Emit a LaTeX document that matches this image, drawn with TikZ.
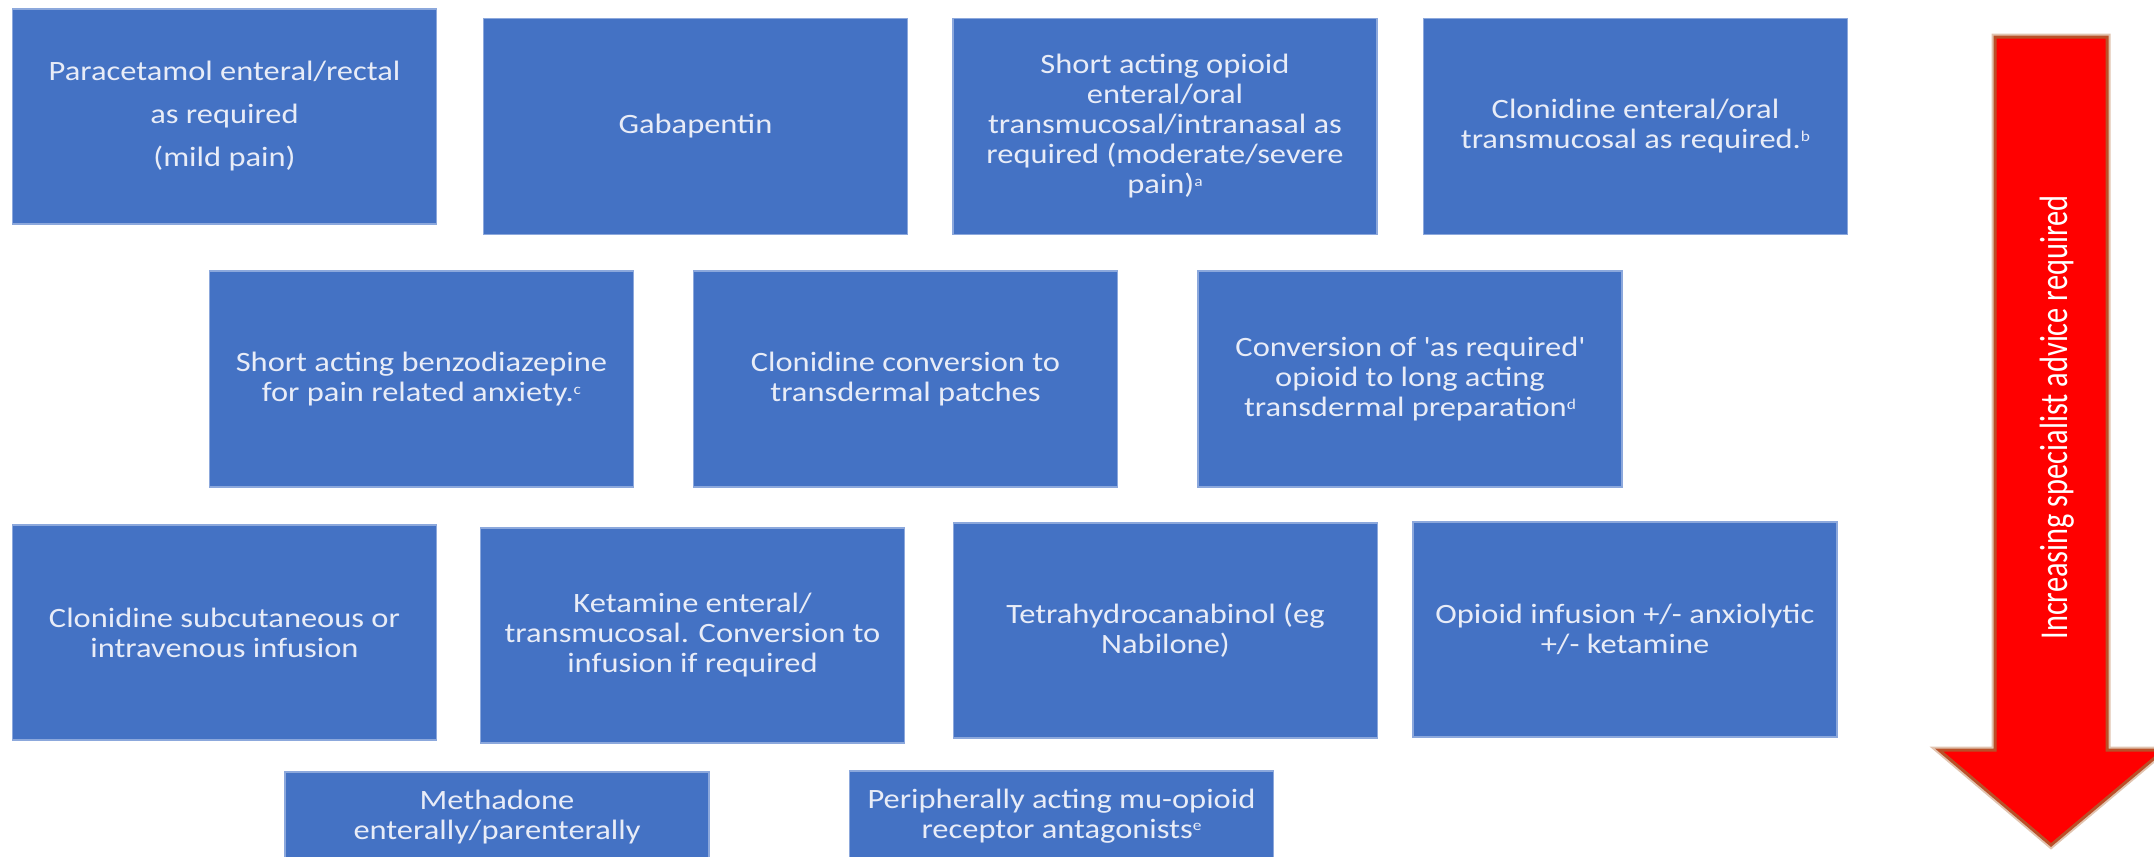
\documentclass[tikz,border=0pt]{standalone}
\usepackage{fontspec}
\setmainfont{Carlito}[FakeStretch=1.16]
\newfontfamily\arrowfont{Carlito}
\newcommand\fnmark[1]{\raisebox{0.55ex}{\fontsize{7.5}{7.5}\selectfont #1}}
\definecolor{boxblue}{RGB}{68,114,196}
\definecolor{boxedge}{RGB}{140,168,220}
\definecolor{boxtext}{RGB}{232,236,247}
\definecolor{arrowred}{RGB}{255,0,0}
\definecolor{arrowedge}{RGB}{185,80,40}
\definecolor{arrowhalo}{RGB}{225,195,175}
\begin{document}
\begin{tikzpicture}[x=0.5pt,y=-0.5pt,
  box/.style={rectangle, fill=boxblue, draw=boxedge, line width=0.7pt, text=boxtext,
    align=center, inner sep=0pt, minimum width=212pt, minimum height=108pt,
    font=\fontsize{14}{15}\selectfont},
  lowbox/.style={box, minimum height=45pt},
  redarrow/.style={fill=arrowred, draw=arrowedge, line width=1.5pt, line join=miter,
    preaction={draw=arrowhalo, line width=3.5pt}},
  arrowlabel/.style={rotate=90, text=white, inner sep=0pt,
    font=\arrowfont\fontsize{15.2}{18}\selectfont}
]
\useasboundingbox (0,0) rectangle (2154,857);

% row 1
\node[box, minimum height=107.5pt, font=\fontsize{14}{21.5}\selectfont] (b1) at (224.5,116.5)
  {Paracetamol enteral/rectal\\as required\\(mild pain)};
\node[box] (b2) at (695.5,126.5) {Gabapentin};
\node[box] (b3) at (1165,126.5)
  {Short acting opioid\\enteral/oral\\transmucosal/intranasal as\\required (moderate/severe\\pain)\fnmark{a}};
\node[box] (b4) at (1635.5,126.5)
  {Clonidine enteral/oral\\transmucosal as required.\fnmark{b}};

% row 2
\node[box] (b5) at (421.5,379)
  {Short acting benzodiazepine\\for pain related anxiety.\fnmark{c}};
\node[box] (b6) at (905.5,379)
  {Clonidine conversion to\\transdermal patches};
\node[box] (b7) at (1410,379)
  {Conversion of \textquotesingle as required\textquotesingle\\opioid to long acting\\transdermal preparation\fnmark{d}};

% row 3
\node[box, minimum height=107.5pt] (b8) at (224.5,632.5)
  {Clonidine subcutaneous or\\intravenous infusion};
\node[box, minimum height=107.5pt] (b9) at (692.5,635.5)
  {Ketamine enteral/\\transmucosal. Conversion to\\infusion if required};
\node[box, minimum height=107.5pt] (b10) at (1165.5,630.5)
  {Tetrahydrocanabinol (eg\\Nabilone)};
\node[box, minimum height=107.5pt] (b11) at (1625,629.5)
  {Opioid infusion +/- anxiolytic\\+/- ketamine};

% row 4
\node[lowbox] (b12) at (497,817)
  {Methadone\\enterally/parenterally};
\node[lowbox] (b13) at (1061.5,816)
  {Peripherally acting mu-opioid\\receptor antagonists\fnmark{e}};

% arrow
\path[redarrow] (1995,37) -- (2107,37) -- (2107,750) -- (2164,750) -- (2051,845)
  -- (1939,750) -- (1995,750) -- cycle;
\node[arrowlabel] (advice) at (2057,417.5)
  {\scalebox{1}[1.3]{Increasing specialist advice required}};
\end{tikzpicture}
\end{document}
